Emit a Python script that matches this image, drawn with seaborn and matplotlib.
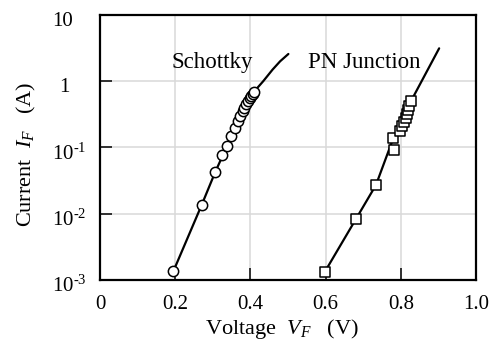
import matplotlib
matplotlib.use("Agg")
import matplotlib.pyplot as plt
import seaborn as sns
import pandas as pd
from matplotlib.ticker import NullLocator
from matplotlib.transforms import ScaledTranslation

# ---- data ----
schottky_pts_v = [0.195, 0.270, 0.306, 0.324, 0.338, 0.349, 0.358, 0.366, 0.373,
                  0.379, 0.384, 0.389, 0.394, 0.398, 0.402, 0.406, 0.410]
schottky_pts_i = [0.00135, 0.0134, 0.042, 0.077, 0.106, 0.15, 0.2, 0.25, 0.3,
                  0.35, 0.4, 0.45, 0.5, 0.55, 0.6, 0.65, 0.7]
schottky_line_v = [0.195, 0.270, 0.306, 0.338, 0.366, 0.384, 0.398, 0.410,
                   0.434, 0.459, 0.479, 0.501]
schottky_line_i = [0.00135, 0.0134, 0.042, 0.106, 0.25, 0.4, 0.55, 0.7,
                   1.0, 1.5, 2.0, 2.58]

pn_pts_v = [0.598, 0.680, 0.734, 0.783, 0.780, 0.798, 0.804, 0.809, 0.813,
            0.816, 0.819, 0.822, 0.827]
pn_pts_i = [0.00133, 0.0082, 0.0272, 0.092, 0.138, 0.177, 0.211, 0.245, 0.282,
            0.317, 0.368, 0.42, 0.50]
pn_line_v = [0.598, 0.680, 0.734, 0.780, 0.827, 0.902]
pn_line_i = [0.00133, 0.0082, 0.0272, 0.138, 0.50, 3.14]

x_ticks = [0, 0.2, 0.4, 0.6, 0.8, 1.0]
x_tick_labels = ["0", "0.2", "0.4", "0.6", "0.8", "1.0"]
y_ticks = [1e-3, 1e-2, 1e-1, 1, 10]
y_tick_labels = [r"$10^{\text{-}3}$", r"$10^{\text{-}2}$", r"$10^{\text{-}1}$", "1", "10"]

# ---- style ----
sns.set_theme(style="white")
plt.rcParams["font.family"] = ["Liberation Serif", "DejaVu Serif"]
plt.rcParams["mathtext.fontset"] = "custom"
plt.rcParams["mathtext.rm"] = "Liberation Serif"
plt.rcParams["mathtext.it"] = "Liberation Serif:italic"
plt.rcParams["mathtext.bf"] = "Liberation Serif:bold"

fig = plt.figure(figsize=(4.93, 3.49), dpi=100)
ax = fig.add_axes([100 / 493, 1 - 280 / 349, 376 / 493, 265 / 349])

df_sl = pd.DataFrame({"V": schottky_line_v, "I": schottky_line_i})
df_sp = pd.DataFrame({"V": schottky_pts_v, "I": schottky_pts_i})
df_pl = pd.DataFrame({"V": pn_line_v, "I": pn_line_i})
df_pp = pd.DataFrame({"V": pn_pts_v, "I": pn_pts_i})

sns.lineplot(data=df_sl, x="V", y="I", sort=False, color="black", lw=1.6, ax=ax, zorder=3)
sns.lineplot(data=df_pl, x="V", y="I", sort=False, color="black", lw=1.6, ax=ax, zorder=3)
sns.scatterplot(data=df_sp, x="V", y="I", marker="o", s=55, facecolor="white",
                edgecolor="black", linewidth=1.1, ax=ax, zorder=4)
sns.scatterplot(data=df_pp, x="V", y="I", marker="s", s=45, facecolor="white",
                edgecolor="black", linewidth=1.1, ax=ax, zorder=4)

ax.set_yscale("log")
ax.set_xlim(0, 1.0)
ax.set_ylim(1e-3, 10)
ax.set_xticks(x_ticks, x_tick_labels)
ax.set_yticks(y_ticks, y_tick_labels)
ax.yaxis.set_minor_locator(NullLocator())
ax.xaxis.set_minor_locator(NullLocator())

ax.grid(True, color="#d9d9d9", lw=1.1)
ax.set_axisbelow(True)
for s in ax.spines.values():
    s.set_visible(True)
    s.set_color("black")
    s.set_linewidth(1.6)

ax.tick_params(axis="both", direction="in", length=8.5, width=1.1, color="black",
               labelsize=15, labelcolor="black", bottom=True, left=True,
               top=False, right=False)
ax.tick_params(axis="x", pad=11)
ax.tick_params(axis="y", pad=34.5)

for lab in ax.get_yticklabels():
    lab.set_horizontalalignment("left")
    dx = 7 if lab.get_text() == "1" else 0
    lab.set_transform(lab.get_transform() + ScaledTranslation(dx / 100, -4 / 100, fig.dpi_scale_trans))

ax.set_xlabel("Voltage  $V_F$   (V)", fontsize=16, color="black")
ax.set_ylabel("Current  $I_F$   (A)", fontsize=16, color="black")
ax.xaxis.set_label_coords(0.484, -0.14)
ax.yaxis.set_label_coords(-0.165, 0.475)

ax.text(0.191, 1.58, "Schottky", fontsize=16.5, ha="left", va="baseline", color="black")
ax.text(0.553, 1.58, "PN Junction", fontsize=16.5, ha="left", va="baseline", color="black")

fig.savefig("out.png", dpi=100)
